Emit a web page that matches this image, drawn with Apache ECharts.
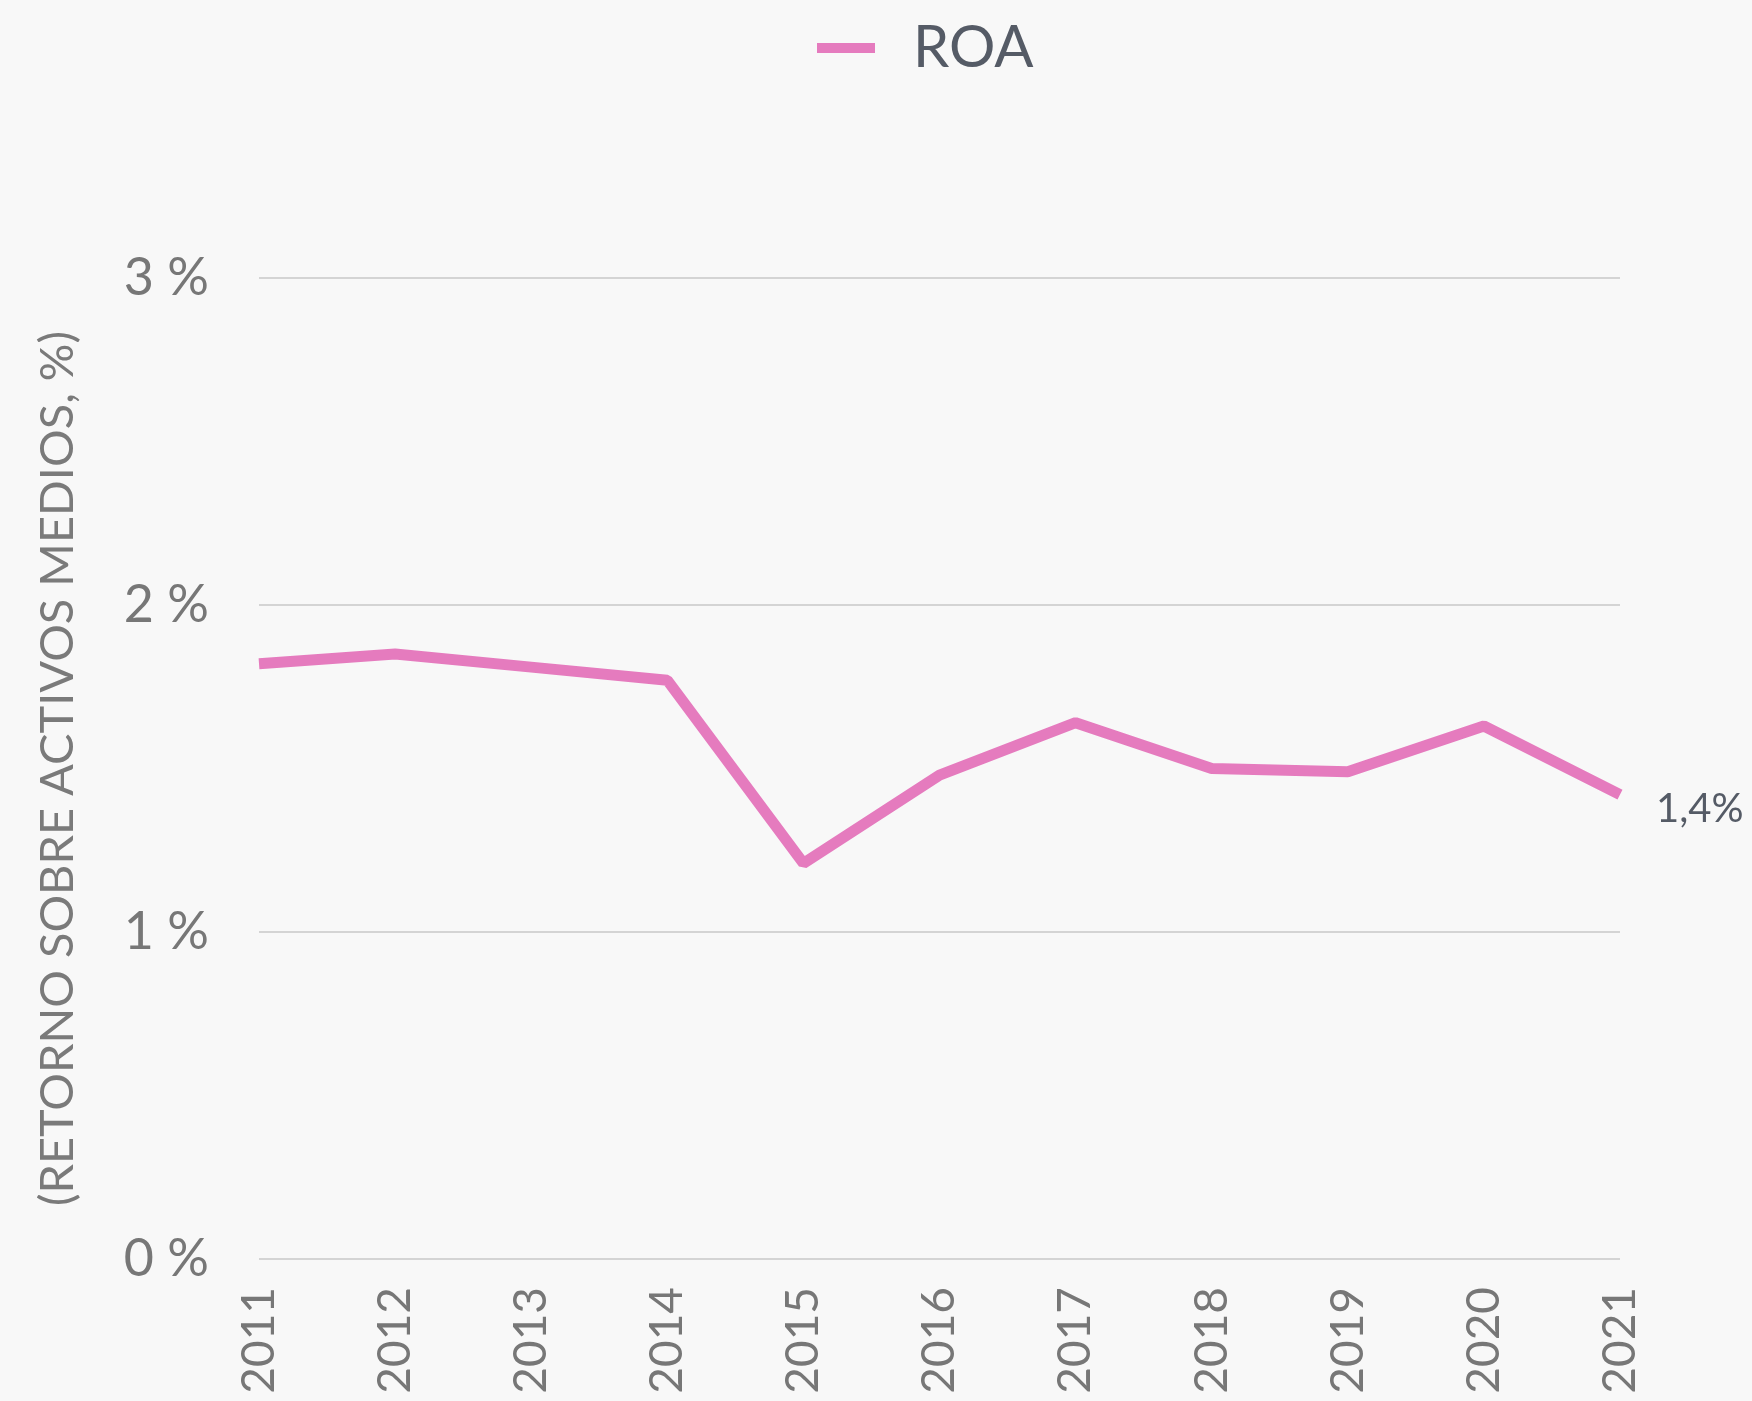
<!DOCTYPE html>
<html>
<head>
<meta charset="utf-8">
<script src="https://cdn.jsdelivr.net/npm/echarts@6/dist/echarts.min.js"></script>
<style>
  html, body { margin: 0; padding: 0; background: #f8f8f8; }
  #chart { width: 1752px; height: 1401px; }
</style>
</head>
<body>
<div id="chart"></div>
<script>
// ROA chart
const years = ['2011', '2012', '2013', '2014', '2015', '2016', '2017', '2018', '2019', '2020', '2021'];
const roa = [1.82, 1.85, 1.81, 1.77, 1.21, 1.48, 1.64, 1.50, 1.49, 1.63, 1.42];
const yTicks = [0, 1, 2, 3];

const chart = echarts.init(document.getElementById('chart'));
chart.setOption({
  backgroundColor: '#f8f8f8',
  animation: false,
  textStyle: { fontFamily: 'Lato' },
  legend: {
    top: 14,
    left: 812,
    icon: 'rect',
    itemWidth: 58,
    itemHeight: 10,
    textStyle: { fontSize: 58, color: '#555b66', padding: [0, 0, 0, 33] },
    data: ['ROA']
  },
  grid: { left: 259, right: 132, top: 278, bottom: 142 },
  xAxis: {
    type: 'category',
    data: years,
    boundaryGap: false,
    axisLine: { show: false },
    axisTick: { show: false },
    axisLabel: { rotate: 90, fontSize: 46, color: '#777777', margin: 28 }
  },
  yAxis: {
    type: 'value',
    min: yTicks[0],
    max: yTicks[yTicks.length - 1],
    interval: 1,
    name: '(RETORNO SOBRE ACTIVOS MEDIOS, %)',
    nameLocation: 'middle',
    nameRotate: 90,
    nameGap: 178,
    nameTextStyle: { fontSize: 47, color: '#7a7a7a' },
    axisLabel: { fontSize: 52, color: '#777777', margin: 50, formatter: v => v + ' %' },
    splitLine: { lineStyle: { color: '#c8c8c8', width: 1.5 } }
  },
  series: [{
    name: 'ROA',
    type: 'line',
    data: roa,
    showSymbol: false,
    color: '#e57bbe',
    lineStyle: { width: 11, color: '#e57bbe' },
    endLabel: {
      show: true,
      distance: 36,
      offset: [0, 14],
      fontSize: 40,
      color: '#555b66',
      formatter: p => p.value.toFixed(1).replace('.', ',') + '%'
    }
  }]
});
</script>
</body>
</html>
